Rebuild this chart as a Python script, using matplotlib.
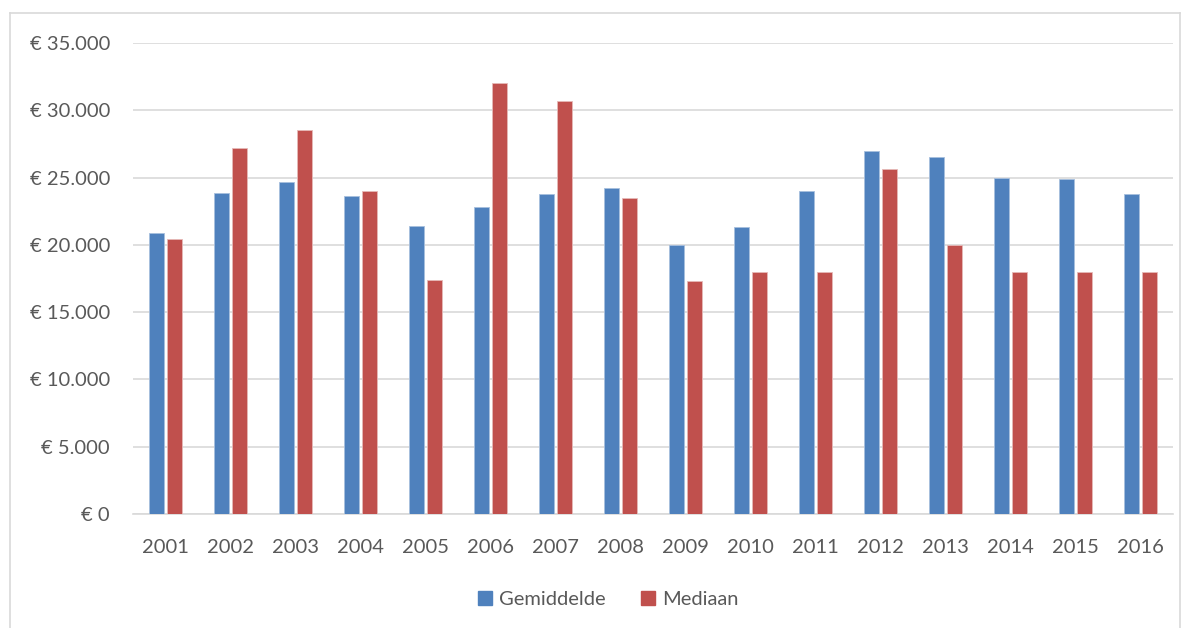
import numpy as np
import matplotlib.pyplot as plt
from matplotlib.ticker import FuncFormatter
from matplotlib.lines import Line2D

plt.rcParams['font.family'] = ['Lato', 'DejaVu Sans']

years = [str(y) for y in range(2001, 2017)]
gemiddelde = [20900, 23830, 24700, 23600, 21370, 22800, 23770, 24200,
              19960, 21300, 24000, 27000, 26550, 25000, 24870, 23780]
mediaan = [20400, 27200, 28500, 24000, 17400, 32000, 30660, 23500,
           17300, 18000, 18000, 25600, 20000, 18000, 18000, 18000]

BLUE = "#4F81BD"
RED = "#C0504D"
TXT = "#595959"

fig = plt.figure(figsize=(11.9, 6.28), dpi=100)
ax = fig.add_axes([133/1190, 1 - 514/628, 1040/1190, 471/628])

x = np.arange(len(years))
w = 0.23
ax.bar(x - 0.142, gemiddelde, w, color=BLUE, edgecolor="#A7BFDE", linewidth=0.6, zorder=3)
ax.bar(x + 0.142, mediaan, w, color=RED, edgecolor="#E6B9B8", linewidth=0.6, zorder=3)

ax.set_xlim(-0.5, len(years) - 0.5)
ax.set_ylim(0, 35000)
ax.set_yticks(range(0, 35001, 5000))
ax.yaxis.set_major_formatter(FuncFormatter(lambda v, p: "€ " + f"{int(v):,}".replace(",", ".")))
ax.set_xticks(x)
ax.set_xticklabels(years)
ax.tick_params(axis="both", length=0, labelsize=14.5, colors=TXT)
ax.tick_params(axis="y", pad=16.5)
ax.tick_params(axis="x", pad=18)
ax.grid(axis="y", color="#D9D9D9", linewidth=1.2, zorder=0)
for s in ["top", "right", "left"]:
    ax.spines[s].set_visible(False)
ax.spines["bottom"].set_color("#D9D9D9")
ax.spines["bottom"].set_linewidth(1.2)

handles = [Line2D([], [], marker="s", linestyle="none", markersize=10, color=BLUE),
           Line2D([], [], marker="s", linestyle="none", markersize=10, color=RED)]
fig.legend(handles, ["Gemiddelde", "Mediaan"], loc="center", bbox_to_anchor=(0.51, 1 - 599/628),
           ncol=2, frameon=False, fontsize=14.5, labelcolor=TXT, handletextpad=0.2,
           columnspacing=1.6, handlelength=1.0)

# outer chart border
fig.add_artist(Line2D([10/1190, 10/1190], [0, 1 - 13/628], color="#D9D9D9", lw=1.2, transform=fig.transFigure))
fig.add_artist(Line2D([10/1190, 1180/1190], [1 - 13/628, 1 - 13/628], color="#D9D9D9", lw=1.2, transform=fig.transFigure))
fig.add_artist(Line2D([1180/1190, 1180/1190], [0, 1 - 13/628], color="#D9D9D9", lw=1.2, transform=fig.transFigure))

fig.savefig("out.png", dpi=100)
